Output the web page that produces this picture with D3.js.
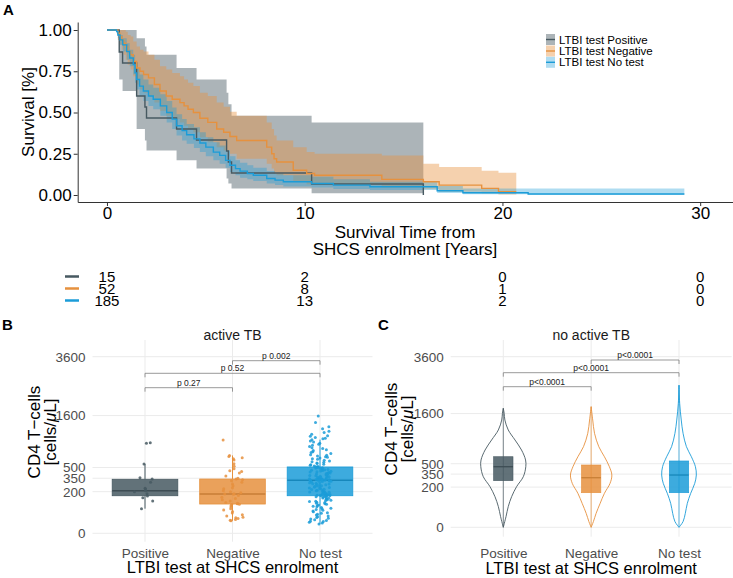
<!DOCTYPE html>
<html><head><meta charset="utf-8">
<script src="https://cdn.jsdelivr.net/npm/d3@7"></script>
<style>
body{margin:0;background:#fff}
svg{display:block}
text{font-family:"Liberation Sans",Arial,Helvetica,sans-serif}
</style>
</head><body>
<svg id="c" width="733" height="578"></svg>
<script>
// ---------------- DATA ----------------
const groups = ["Positive", "Negative", "No test"];
const legendLabels = ["LTBI test Positive", "LTBI test Negative", "LTBI test No test"];
const colors = ["#475961", "#E6913E", "#1B9CD8"];

// Kaplan-Meier: LTBI test Positive
const posTime  = [0, 0.62, 0.79, 1.50, 1.92, 2.00, 3.52, 4.53, 6.05, 6.14, 6.30, 10.35, 16.0];
const posSurv  = [1, 0.867, 0.800, 0.600, 0.533, 0.467, 0.400, 0.333, 0.267, 0.200, 0.133, 0.067, 0];
const posUpper = [1, 1, 1, 0.95, 0.90, 0.85, 0.77, 0.70, 0.62, 0.55, 0.48, 0.44, 0.44];
const posLower = [1, 0.70, 0.63, 0.40, 0.33, 0.27, 0.21, 0.16, 0.10, 0.07, 0.04, 0.01, 0.01];

// Kaplan-Meier: LTBI test Negative
const negTime  = [0, 0.55, 0.65, 0.75, 0.85, 0.95, 1.05, 1.20, 1.33, 1.50, 1.67, 1.85, 2.10, 2.40, 2.68, 3.00, 3.30, 3.69, 3.90, 4.10, 4.37, 4.70, 5.10, 5.55, 5.90, 6.22, 6.56, 8.08, 8.33, 8.45, 8.58, 9.42, 10.10, 10.50, 13.90, 16.00, 16.80, 18.95, 19.80, 20.70];
const negSurv  = [1, 0.98, 0.96, 0.94, 0.92, 0.90, 0.87, 0.85, 0.81, 0.77, 0.75, 0.73, 0.71, 0.67, 0.63, 0.60, 0.58, 0.56, 0.54, 0.52, 0.50, 0.465, 0.44, 0.40, 0.38, 0.355, 0.33, 0.29, 0.25, 0.22, 0.20, 0.15, 0.13, 0.12, 0.095, 0.08, 0.06, 0.04, 0.02, 0.02];
const negUpper = [1, 1, 1, 1, 1, 0.99, 0.97, 0.96, 0.93, 0.90, 0.88, 0.87, 0.85, 0.82, 0.78, 0.76, 0.74, 0.72, 0.70, 0.68, 0.66, 0.62, 0.60, 0.56, 0.535, 0.505, 0.48, 0.44, 0.40, 0.36, 0.33, 0.29, 0.26, 0.25, 0.24, 0.19, 0.17, 0.147, 0.135, 0.135];
const negLower = [1, 0.94, 0.91, 0.88, 0.85, 0.82, 0.79, 0.76, 0.72, 0.67, 0.64, 0.62, 0.60, 0.56, 0.51, 0.48, 0.46, 0.44, 0.42, 0.40, 0.38, 0.35, 0.32, 0.29, 0.27, 0.25, 0.22, 0.19, 0.16, 0.13, 0.12, 0.08, 0.065, 0.06, 0.045, 0.035, 0.02, 0.01, 0.003, 0.003];

// Kaplan-Meier: LTBI test No test
const ntTime  = [0, 0.49, 0.55, 0.66, 0.80, 1.00, 1.15, 1.33, 1.42, 1.50, 1.65, 1.84, 2.10, 2.34, 2.70, 3.02, 3.30, 3.52, 3.80, 4.03, 4.40, 4.70, 5.00, 5.38, 5.70, 6.00, 6.22, 6.50, 6.73, 7.10, 7.40, 8.08, 8.50, 8.92, 10.35, 11.45, 13.30, 16.70, 18.00, 21.30, 29.20];
const ntSurv  = [1, 0.99, 0.97, 0.94, 0.91, 0.87, 0.83, 0.79, 0.74, 0.70, 0.66, 0.63, 0.60, 0.58, 0.54, 0.50, 0.46, 0.42, 0.39, 0.365, 0.34, 0.315, 0.29, 0.26, 0.24, 0.21, 0.18, 0.16, 0.145, 0.13, 0.12, 0.10, 0.09, 0.08, 0.07, 0.06, 0.05, 0.026, 0.014, 0.006, 0.006];
const ntUpper = [1, 1, 0.99, 0.97, 0.95, 0.92, 0.88, 0.85, 0.80, 0.77, 0.73, 0.70, 0.67, 0.65, 0.61, 0.57, 0.53, 0.49, 0.46, 0.43, 0.41, 0.38, 0.35, 0.32, 0.30, 0.27, 0.235, 0.21, 0.195, 0.18, 0.165, 0.145, 0.13, 0.12, 0.11, 0.095, 0.081, 0.055, 0.04, 0.04, 0.04];
const ntLower = [1, 0.98, 0.95, 0.91, 0.87, 0.82, 0.78, 0.73, 0.68, 0.64, 0.60, 0.57, 0.54, 0.52, 0.48, 0.44, 0.40, 0.36, 0.33, 0.31, 0.285, 0.26, 0.235, 0.21, 0.19, 0.165, 0.14, 0.12, 0.105, 0.095, 0.085, 0.07, 0.06, 0.052, 0.045, 0.037, 0.03, 0.012, 0.005, 0.002, 0.002];

const survTicks = [0, 0.25, 0.5, 0.75, 1];
const timeTicks = [0, 10, 20, 30];

// Number at risk table
const riskTimes = [0, 10, 20, 30];
const riskPos = [15, 2, 0, 0];
const riskNeg = [52, 8, 1, 0];
const riskNt  = [185, 13, 2, 0];

// CD4 axis
const cd4Ticks = [0, 200, 350, 500, 1600, 3600];

// Panel B: active TB – box stats and points
const bQ1  = [163, 99, 163];
const bMed = [209, 178, 324];
const bQ3  = [337, 340, 508];
const bLo  = [70, 18, 10];
const bHi  = [554, 700, 1012];
const posActivePts = [948, 937, 554, 357, 340, 300, 234, 226, 210, 200, 180, 160, 146, 120, 70];
const negActivePts = [1005, 700, 680, 660, 640, 620, 560, 520, 480, 450, 440, 420, 380, 350, 340, 330, 320, 300, 280, 260, 240, 230, 210, 200, 190, 180, 178, 175, 165, 150, 140, 130, 120, 110, 105, 100, 98, 95, 90, 80, 70, 62, 55, 48, 40, 35, 30, 28, 25, 22, 20, 18];
const ntActivePts = [1590, 1420, 1310, 1260, 1200, 1170, 1130, 1100, 1085, 1060, 1045, 1030, 1012, 985, 962, 938, 915, 893, 871, 846, 828, 806, 791, 768, 752, 733, 712, 702, 688, 675, 668, 654, 641, 633, 617, 602, 591, 584, 571, 562, 549, 541, 533, 522, 516, 511,
  508,
  503, 497, 492, 488, 481, 476, 470, 466, 459, 455, 449, 444, 437, 433, 428, 421, 417, 412, 406, 401, 397, 392, 386, 381, 377, 372, 368, 363, 359, 354, 350, 347, 343, 340, 338, 336, 334, 332, 331, 330, 329, 328, 327, 326, 325,
  324,
  321, 317, 312, 309, 303, 298, 294, 290, 284, 281, 276, 271, 268, 262, 258, 254, 249, 246, 241, 237, 233, 228, 225, 221, 217, 213, 209, 205, 201, 198, 194, 191, 187, 184, 181, 178, 176, 174, 172, 170, 168, 167, 166, 165, 164,
  163,
  161, 158, 155, 151, 148, 144, 141, 137, 134, 130, 127, 123, 119, 116, 112, 108, 104, 101, 97, 93, 89, 85, 81, 77, 73, 69, 65, 61, 57, 53, 49, 46, 42, 39, 35, 32, 29, 26, 24, 21, 19, 17, 16, 14, 12, 10];
const bPLabels = ["p 0.27", "p 0.52", "p 0.002"];

// Panel C: no active TB – box stats and violin density profiles
const cQ1  = [269, 148, 148];
const cMed = [454, 304, 338];
const cQ3  = [616, 480, 544];
const cLo  = [0, 0, 0];
const cHi  = [1753, 1800, 2500];
const vPosVal = [0, 14, 53, 116, 204, 317, 454, 560, 739, 943, 1172, 1423, 1600, 1753];
const vPosDen = [0, 0.12, 0.22, 0.37, 0.59, 0.89, 1.0, 0.99, 0.81, 0.52, 0.22, 0.07, 0.04, 0];
const vNegVal = [0, 4, 24, 71, 143, 239, 338, 454, 616, 804, 1093, 1423, 1800];
const vNegDen = [0, 0.10, 0.22, 0.40, 0.59, 0.84, 0.92, 0.81, 0.59, 0.34, 0.15, 0.07, 0];
const vNtVal  = [0, 4, 24, 71, 143, 239, 338, 454, 616, 804, 1093, 1423, 1900, 2500];
const vNtDen  = [0, 0.18, 0.28, 0.37, 0.52, 0.70, 0.77, 0.73, 0.55, 0.33, 0.18, 0.10, 0.03, 0];
const cPLabels = ["p<0.0001", "p<0.0001", "p<0.0001"];

// ---------------- DRAW ----------------
const FF = '"Liberation Sans",Arial,Helvetica,sans-serif';
const svg = d3.select("#c");
svg.append("rect").attr("width", 733).attr("height", 578).attr("fill", "#fff");

// ===== Panel A =====
const kmX = d3.scaleLinear().domain([-1.48, 31.66]).range([77.7, 733]);
const kmY = d3.scaleLinear().domain([-0.0424, 1.0485]).range([202, 22]);

const km = [
  {t: posTime, s: posSurv, u: posUpper, l: posLower},
  {t: negTime, s: negSurv, u: negUpper, l: negLower},
  {t: ntTime,  s: ntSurv,  u: ntUpper,  l: ntLower}
];
const bandAlpha = [0.45, 0.42, 0.35];
const areaGen = d3.area().curve(d3.curveStepAfter)
  .x(d => kmX(d.t)).y0(d => kmY(d.l)).y1(d => kmY(d.u));
const lineGen = d3.line().curve(d3.curveStepAfter)
  .x(d => kmX(d.t)).y(d => kmY(d.s));

const gA = svg.append("g");
km.forEach((k, gi) => {
  const pts = k.t.map((t, i) => ({t, s: k.s[i], u: k.u[i], l: k.l[i]}));
  gA.append("path").attr("d", areaGen(pts))
    .attr("fill", colors[gi]).attr("fill-opacity", bandAlpha[gi]).attr("stroke", "none");
});
km.forEach((k, gi) => {
  const pts = k.t.map((t, i) => ({t, s: k.s[i]}));
  gA.append("path").attr("d", lineGen(pts))
    .attr("fill", "none").attr("stroke", colors[gi]).attr("stroke-width", 1.4);
});

const axB = svg.append("g").attr("transform", "translate(0,202)")
  .call(d3.axisBottom(kmX).tickValues(timeTicks).tickSize(4).tickSizeOuter(0).tickPadding(1));
const axL = svg.append("g").attr("transform", "translate(77.7,0)")
  .call(d3.axisLeft(kmY).tickValues(survTicks).tickFormat(d3.format(".2f")).tickSize(4).tickSizeOuter(0).tickPadding(2));
[axB, axL].forEach(a => {
  a.select(".domain").attr("stroke", "#333").attr("stroke-width", 1);
  a.selectAll(".tick line").attr("stroke", "#333");
  a.selectAll("text").attr("font-size", 17).attr("fill", "#000").attr("font-family", FF);
});

svg.append("text").attr("transform", "translate(34,112) rotate(-90)")
  .attr("text-anchor", "middle").attr("font-size", 17).text("Survival [%]");
svg.append("text").attr("x", 405).attr("y", 238).attr("text-anchor", "middle")
  .attr("font-size", 17).text("Survival Time from");
svg.append("text").attr("x", 405).attr("y", 255).attr("text-anchor", "middle")
  .attr("font-size", 17).text("SHCS enrolment [Years]");

svg.append("text").attr("x", 3).attr("y", 15).attr("font-size", 15)
  .attr("font-weight", "bold").text("A");

const legY = [39.5, 51, 62.3];
legendLabels.forEach((lab, i) => {
  const g = svg.append("g");
  g.append("rect").attr("x", 546).attr("y", legY[i] - 5.5).attr("width", 9).attr("height", 11)
    .attr("fill", colors[i]).attr("fill-opacity", bandAlpha[i]);
  g.append("line").attr("x1", 546).attr("x2", 555).attr("y1", legY[i]).attr("y2", legY[i])
    .attr("stroke", colors[i]).attr("stroke-width", 1.4);
  g.append("text").attr("x", 559).attr("y", legY[i] + 4).attr("font-size", 11.5).text(lab);
});

const risks = [riskPos, riskNeg, riskNt];
const rowY = [276.5, 288.5, 300.5];
risks.forEach((r, i) => {
  svg.append("line").attr("x1", 65).attr("x2", 79).attr("y1", rowY[i]).attr("y2", rowY[i])
    .attr("stroke", colors[i]).attr("stroke-width", 2.5);
  r.forEach((v, j) => {
    svg.append("text").attr("x", kmX(riskTimes[j])).attr("y", rowY[i] + 5.4)
      .attr("text-anchor", "middle").attr("font-size", 15).text(v);
  });
});

// ===== Panels B & C shared helper =====
function panelFrame(cfg) {
  const g = svg.append("g");
  cd4Ticks.forEach(v => {
    g.append("line").attr("x1", cfg.x0).attr("x2", cfg.x1)
      .attr("y1", cfg.y(v)).attr("y2", cfg.y(v))
      .attr("stroke", "#ebebeb").attr("stroke-width", 1);
  });
  groups.forEach(gr => {
    g.append("line").attr("x1", cfg.x(gr)).attr("x2", cfg.x(gr))
      .attr("y1", cfg.top).attr("y2", cfg.bottom)
      .attr("stroke", "#ebebeb").attr("stroke-width", 1);
  });
  const ay = svg.append("g").attr("transform", `translate(${cfg.x0},0)`)
    .call(d3.axisLeft(cfg.y).tickValues(cd4Ticks).tickFormat(d3.format("d")).tickSize(0).tickPadding(7));
  const ax = svg.append("g").attr("transform", `translate(0,${cfg.bottom})`)
    .call(d3.axisBottom(cfg.x).tickSize(0).tickPadding(cfg.xpad));
  [ay, ax].forEach(a => {
    a.select(".domain").remove();
    a.selectAll("text").attr("font-size", 13.5).attr("fill", "#4d4d4d").attr("font-family", FF);
  });
  svg.append("text").attr("x", (cfg.x0 + cfg.x1) / 2).attr("y", cfg.stripY)
    .attr("text-anchor", "middle").attr("font-size", 14).attr("fill", "#1a1a1a").text(cfg.strip);
  svg.append("text").attr("x", (cfg.x0 + cfg.x1) / 2).attr("y", cfg.xTitleY)
    .attr("text-anchor", "middle").attr("font-size", 16.5).text("LTBI test at SHCS enrolment");
  svg.append("text").attr("transform", `translate(${cfg.yT1},${cfg.yTc}) rotate(-90)`)
    .attr("text-anchor", "middle").attr("font-size", 17).text("CD4 T\u2212cells");
  const t2 = svg.append("text").attr("transform", `translate(${cfg.yT2},${cfg.yTc}) rotate(-90)`)
    .attr("text-anchor", "middle").attr("font-size", 17);
  t2.append("tspan").text("[cells/");
  t2.append("tspan").attr("font-style", "italic").text("\u03bc");
  t2.append("tspan").text("L]");
  svg.append("text").attr("x", cfg.labX).attr("y", 329.5).attr("font-size", 15)
    .attr("font-weight", "bold").text(cfg.lab);
  const pairs = [[0, 1], [0, 2], [1, 2]];
  pairs.forEach((p, i) => {
    const yb = cfg.brY[i];
    const xa = cfg.x(groups[p[0]]), xb = cfg.x(groups[p[1]]);
    g.append("path").attr("d", `M${xa},${yb + 4}V${yb}H${xb}V${yb + 4}`)
      .attr("fill", "none").attr("stroke", "#808080").attr("stroke-width", 0.8);
    svg.append("text").attr("x", (xa + xb) / 2).attr("y", yb - 2.2)
      .attr("text-anchor", "middle").attr("font-size", 8.5).attr("fill", "#222").text(cfg.pl[i]);
  });
}

// ===== Panel B =====
const bX = d3.scalePoint().domain(groups).range([145, 320]);
const bY = d3.scaleSqrt().domain([0, 3600]).range([533.3, 356.7]);
panelFrame({x: bX, y: bY, x0: 92.5, x1: 372.5, top: 340, bottom: 541.7, xpad: 7,
  strip: "active TB", stripY: 339.5, xTitleY: 572.5, yT1: 39.5, yT2: 56, yTc: 432,
  lab: "B", labX: 2, brY: [387.7, 373.3, 360.7], pl: bPLabels});

const bw = 65.6;
const gB = svg.append("g");
groups.forEach((gr, i) => {
  const cx = bX(gr);
  gB.append("line").attr("x1", cx).attr("x2", cx).attr("y1", bY(bQ3[i])).attr("y2", bY(bHi[i]))
    .attr("stroke", colors[i]).attr("stroke-width", 1);
  gB.append("line").attr("x1", cx).attr("x2", cx).attr("y1", bY(bQ1[i])).attr("y2", bY(bLo[i]))
    .attr("stroke", colors[i]).attr("stroke-width", 1);
  gB.append("rect").attr("x", cx - bw / 2).attr("width", bw)
    .attr("y", bY(bQ3[i])).attr("height", bY(bQ1[i]) - bY(bQ3[i]))
    .attr("fill", colors[i]).attr("fill-opacity", 0.85)
    .attr("stroke", colors[i]).attr("stroke-width", 0.8);
  gB.append("line").attr("x1", cx - bw / 2).attr("x2", cx + bw / 2)
    .attr("y1", bY(bMed[i])).attr("y2", bY(bMed[i]))
    .attr("stroke", d3.color(colors[i]).darker(0.4)).attr("stroke-width", 1.5);
});
// deterministic horizontal jitter (position only)
function jitter(i, gi) {
  const h = Math.sin((i + 1) * 12.9898 + (gi + 1) * 78.233) * 43758.5453;
  return (h - Math.floor(h) - 0.5) * 22;
}
const activePts = [posActivePts, negActivePts, ntActivePts];
activePts.forEach((arr, gi) => {
  const cx = bX(groups[gi]);
  arr.forEach((v, i) => {
    gB.append("circle").attr("cx", cx + jitter(i, gi)).attr("cy", bY(v)).attr("r", 1.5)
      .attr("fill", colors[gi]).attr("fill-opacity", 0.85);
  });
});

// ===== Panel C =====
const cX = d3.scalePoint().domain(groups).range([503.3, 679]);
const cY = d3.scaleSqrt().domain([0, 3600]).range([527.3, 356.7]);
panelFrame({x: cX, y: cY, x0: 450.7, x1: 731.7, top: 340, bottom: 536.7, xpad: 12,
  strip: "no active TB", stripY: 340, xTitleY: 574, yT1: 396.5, yT2: 413, yTc: 429,
  lab: "C", labX: 378, brY: [386.7, 372.7, 360], pl: cPLabels});

const gC = svg.append("g");
const violins = [[vPosVal, vPosDen], [vNegVal, vNegDen], [vNtVal, vNtDen]];
const vHalf = 22.5;
violins.forEach((vd, i) => {
  const cx = cX(groups[i]);
  const pts = vd[0].map((v, j) => ({v, d: vd[1][j]}));
  const ar = d3.area().curve(d3.curveCatmullRom.alpha(0.5))
    .y(p => cY(p.v)).x0(p => cx - p.d * vHalf).x1(p => cx + p.d * vHalf);
  gC.append("path").attr("d", ar(pts)).attr("fill", "none")
    .attr("stroke", colors[i]).attr("stroke-width", 0.9);
});
const cbw = 19.4;
groups.forEach((gr, i) => {
  const cx = cX(gr);
  gC.append("line").attr("x1", cx).attr("x2", cx).attr("y1", cY(cLo[i])).attr("y2", cY(cHi[i]))
    .attr("stroke", colors[i]).attr("stroke-width", 0.7);
  gC.append("rect").attr("x", cx - cbw / 2).attr("width", cbw)
    .attr("y", cY(cQ3[i])).attr("height", cY(cQ1[i]) - cY(cQ3[i]))
    .attr("fill", colors[i]).attr("fill-opacity", 0.85)
    .attr("stroke", colors[i]).attr("stroke-width", 0.6);
  gC.append("line").attr("x1", cx - cbw / 2).attr("x2", cx + cbw / 2)
    .attr("y1", cY(cMed[i])).attr("y2", cY(cMed[i]))
    .attr("stroke", d3.color(colors[i]).darker(0.4)).attr("stroke-width", 1.3);
});
</script>
</body></html>
